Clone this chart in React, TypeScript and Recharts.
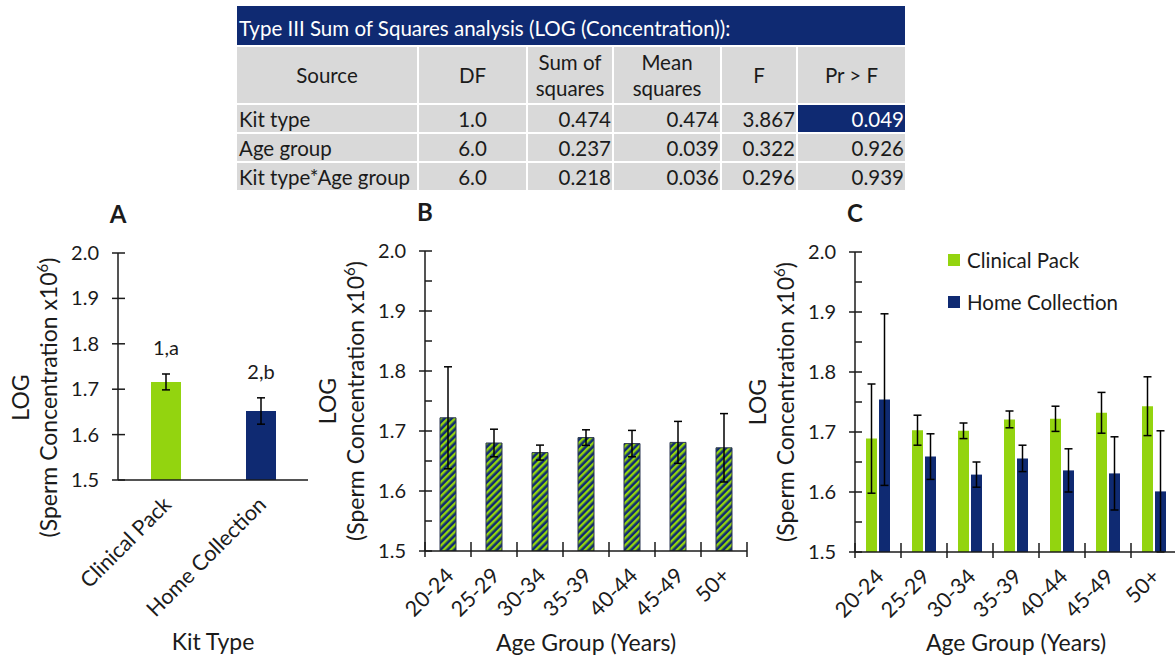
import React from 'react';
import { BarChart, Bar, XAxis, YAxis, ErrorBar, Cell, LabelList, Legend, Label } from 'recharts';

const NAVY = '#0f2a72';
const GREEN = '#93d40f';
const GRAY = '#d9d9d9';
const INK = '#1b1b1b';
const FONT = 'Lato, "Open Sans", sans-serif';

const Y_TICKS = [1.5, 1.55, 1.6, 1.65, 1.7, 1.75, 1.8, 1.85, 1.9, 1.95, 2.0];

// A: kit type
const KIT_TYPES = ['Clinical Pack', 'Home Collection'];
const KIT_MEAN = [1.716, 1.652];
const KIT_SE = [0.0175, 0.029];
const KIT_GROUP = ['1,a', '2,b'];
const KIT_FILL = [GREEN, NAVY];

// B: age group (both kits)
const AGE_GROUPS = ['20-24', '25-29', '30-34', '35-39', '40-44', '45-49', '50+'];
const AGE_MEAN = [1.722, 1.68, 1.664, 1.689, 1.679, 1.681, 1.672];
const AGE_SE = [0.085, 0.023, 0.0125, 0.013, 0.022, 0.035, 0.057];

// C: kit type x age group
const CLINICAL_MEAN = [1.689, 1.703, 1.702, 1.721, 1.722, 1.732, 1.743];
const CLINICAL_SE = [0.091, 0.025, 0.013, 0.014, 0.021, 0.034, 0.049];
const HOME_MEAN = [1.754, 1.659, 1.629, 1.656, 1.636, 1.631, 1.601];
const HOME_SE = [0.143, 0.038, 0.021, 0.022, 0.036, 0.061, 0.101];
const SERIES = [
  { key: 'clinical', name: 'Clinical Pack', color: GREEN },
  { key: 'home', name: 'Home Collection', color: NAVY },
];

// table
const TABLE_TITLE = 'Type III Sum of Squares analysis (LOG (Concentration)):';
const TABLE_HEAD = ['Source', 'DF', 'Sum of\nsquares', 'Mean\nsquares', 'F', 'Pr > F'];
const TABLE_ROWS = [
  ['Kit type', '1.0', '0.474', '0.474', '3.867', '0.049'],
  ['Age group', '6.0', '0.237', '0.039', '0.322', '0.926'],
  ['Kit type*Age group', '6.0', '0.218', '0.036', '0.296', '0.939'],
];
const HIGHLIGHT = '0-5';

const kitData = KIT_TYPES.map((name, i) => ({ name, mean: KIT_MEAN[i], se: KIT_SE[i] }));
const ageData = AGE_GROUPS.map((name, i) => ({ name, mean: AGE_MEAN[i], se: AGE_SE[i] }));
const splitData = AGE_GROUPS.map((name, i) => ({
  name,
  clinical: CLINICAL_MEAN[i], clinicalSe: CLINICAL_SE[i],
  home: HOME_MEAN[i], homeSe: HOME_SE[i],
}));

function YTick(props: any) {
  const { x, y, payload } = props;
  const v = payload.value;
  const major = Math.round(v * 100) % 10 === 0;
  return (
    <g>
      <line x1={major ? x - 6 : x} x2={x + 7} y1={y} y2={y} stroke={INK} strokeWidth={1.5} />
      {major && (
        <text x={x - 19} y={y} dy={7} textAnchor="end" fontSize={20} fill={INK}>{v.toFixed(1)}</text>
      )}
    </g>
  );
}

function XTick(props: any) {
  const { x, y, payload, index, bounds, half, count } = props;
  const h = payload.offset || half;
  const tx = x + 7, ty = y + 26;
  return (
    <g>
      {bounds && <line x1={x - h} x2={x - h} y1={y - 9} y2={y + 6} stroke={INK} strokeWidth={1.5} />}
      {bounds && index === count - 1 && <line x1={x + h} x2={x + h} y1={y - 9} y2={y + 6} stroke={INK} strokeWidth={1.5} />}
      <text x={tx} y={ty} textAnchor="end" fontSize={21.5} fill={INK} transform={`rotate(-45, ${tx}, ${ty})`}>
        {payload.value}
      </text>
    </g>
  );
}

function YTitle(props: any) {
  const { viewBox, shift = 0, letter } = props;
  const ax = viewBox.x + viewBox.width;
  const cy = viewBox.y + viewBox.height / 2 + shift;
  return (
    <g fill={INK} fontSize={23}>
      <text x={ax} y={viewBox.y - 30} textAnchor="middle" fontSize={24} fontWeight="bold">{letter}</text>
      <text transform={`translate(${ax - 89},${cy}) rotate(-90)`} textAnchor="middle">LOG</text>
      <text transform={`translate(${ax - 61},${cy}) rotate(-90)`} textAnchor="middle">
        (Sperm Concentration x10<tspan dy={-9} fontSize={15}>6</tspan><tspan dy={9}>)</tspan>
      </text>
    </g>
  );
}

function XTitle(props: any) {
  const { viewBox, text, dy } = props;
  return (
    <text x={viewBox.x + viewBox.width / 2} y={viewBox.y + dy} textAnchor="middle" fontSize={23} fill={INK}>
      {text}
    </text>
  );
}

function GroupLetter(props: any) {
  const vb = props.viewBox || props;
  const { index } = props;
  const { x, y, width, height } = vb;
  const ppu = Math.abs(height) / (KIT_MEAN[index] - 1.5);
  const top = Math.min(y, y + height) - KIT_SE[index] * ppu;
  return (
    <text x={x + width / 2} y={top - 19} textAnchor="middle" fontSize={20} fill={INK}>{KIT_GROUP[index]}</text>
  );
}

function SplitLegend() {
  return (
    <div style={{ fontFamily: FONT, fontSize: 20.5, color: INK }}>
      {SERIES.map(s => (
        <div key={s.key} style={{ display: 'flex', alignItems: 'center', height: 42, whiteSpace: 'nowrap' }}>
          <span style={{ width: 12, height: 12, background: s.color, marginRight: 7, display: 'inline-block' }} />
          {s.name}
        </div>
      ))}
    </div>
  );
}

const axisLine = { stroke: INK, strokeWidth: 1.5 };

function yAxis(letter: string, shift = 0) {
  return (
    <YAxis domain={[1.5, 2.0]} ticks={Y_TICKS} allowDataOverflow width={60} tickSize={0} tickMargin={0}
           tickLine={false} axisLine={axisLine} tick={<YTick />}>
      <Label content={(p: any) => <YTitle {...p} letter={letter} shift={shift} />} />
    </YAxis>
  );
}

function StatsTable() {
  const cell = { background: GRAY, display: 'flex', alignItems: 'center' } as const;
  return (
    <div style={{ position: 'absolute', left: 237, top: 6, width: 668, display: 'grid',
                  gridTemplateColumns: '180px 107px 84px 106px 74px 107px',
                  gridTemplateRows: '39px 56px 27px 27px 27px', gap: 2, fontSize: 20.5, color: INK }}>
      <div style={{ gridColumn: '1 / 7', background: NAVY, color: '#fff', display: 'flex', alignItems: 'center',
                    paddingLeft: 2, paddingTop: 4, whiteSpace: 'nowrap' }}>{TABLE_TITLE}</div>
      {TABLE_HEAD.map(h => (
        <div key={h} style={{ ...cell, justifyContent: 'center', textAlign: 'center', whiteSpace: 'pre-line', lineHeight: '26px' }}>{h}</div>
      ))}
      {TABLE_ROWS.map((row, r) => row.map((v, c) => {
        const hi = `${r}-${c}` === HIGHLIGHT;
        return (
          <div key={`${r}-${c}`} style={{ ...cell, background: hi ? NAVY : GRAY, color: hi ? '#fff' : INK,
                justifyContent: c === 0 ? 'flex-start' : c === 1 ? 'center' : 'flex-end',
                paddingLeft: c === 0 ? 2 : 0, paddingRight: c > 1 ? 1 : 0, whiteSpace: 'nowrap' }}>{v}</div>
        );
      }))}
    </div>
  );
}

export default function App() {
  return (
    <div style={{ position: 'absolute', left: 0, top: 0, width: 1175, height: 655, overflow: 'hidden',
                  background: '#fff', fontFamily: FONT }}>
      <StatsTable />

      <div style={{ position: 'absolute', left: 0, top: 192 }}>
        <BarChart width={320} height={463} data={kitData} margin={{ top: 61, right: 12, bottom: 75, left: 58 }}>
          <XAxis dataKey="name" height={100} interval={0} tickSize={0} tickMargin={0} tickLine={false}
                 axisLine={axisLine} tick={<XTick bounds={false} />}>
            <Label content={(p: any) => <XTitle {...p} text="Kit Type" dy={170} />} />
          </XAxis>
          {yAxis('A', 31)}
          <Bar dataKey="mean" barSize={30} isAnimationActive={false}>
            {kitData.map((d, i) => <Cell key={d.name} fill={KIT_FILL[i]} />)}
            <ErrorBar dataKey="se" width={4} stroke="#000" strokeWidth={1.5} />
            <LabelList dataKey="mean" content={GroupLetter} />
          </Bar>
        </BarChart>
      </div>

      <div style={{ position: 'absolute', left: 305, top: 192 }}>
        <BarChart width={455} height={463} data={ageData} margin={{ top: 59, right: 13, bottom: 4, left: 60 }}>
          <defs>
            <pattern id="kitStripes" patternUnits="userSpaceOnUse" width={5} height={5} patternTransform="rotate(45)">
              <rect width={5} height={5} fill={NAVY} />
              <rect width={2.4} height={5} fill={GREEN} />
            </pattern>
          </defs>
          <XAxis dataKey="name" height={100} interval={0} tickSize={0} tickMargin={0} tickLine={false}
                 axisLine={axisLine} tick={<XTick bounds half={23} count={AGE_GROUPS.length} />}>
            <Label content={(p: any) => <XTitle {...p} text="Age Group (Years)" dy={100} />} />
          </XAxis>
          {yAxis('B')}
          <Bar dataKey="mean" barSize={16} fill="url(#kitStripes)" stroke="#2a3550" strokeWidth={1} isAnimationActive={false}>
            <ErrorBar dataKey="se" width={4} stroke="#000" strokeWidth={1.5} />
          </Bar>
        </BarChart>
      </div>

      <div style={{ position: 'absolute', left: 735, top: 192 }}>
        <BarChart width={442} height={463} data={splitData} barGap={2}
                  margin={{ top: 60, right: 0, bottom: 3, left: 60 }}>
          <XAxis dataKey="name" height={100} interval={0} tickSize={0} tickMargin={0} tickLine={false}
                 axisLine={axisLine} tick={<XTick bounds half={23} count={AGE_GROUPS.length} />}>
            <Label content={(p: any) => <XTitle {...p} text="Age Group (Years)" dy={99} />} />
          </XAxis>
          {yAxis('C')}
          <Legend layout="horizontal" verticalAlign="middle" align="center" content={<SplitLegend />}
                  wrapperStyle={{ left: 213, top: 47, width: 'auto' }} />
          {SERIES.map(s => (
            <Bar key={s.key} dataKey={s.key} name={s.name} fill={s.color} barSize={11} isAnimationActive={false}>
              <ErrorBar dataKey={`${s.key}Se`} width={4} stroke="#000" strokeWidth={1.5} />
            </Bar>
          ))}
        </BarChart>
      </div>
    </div>
  );
}
